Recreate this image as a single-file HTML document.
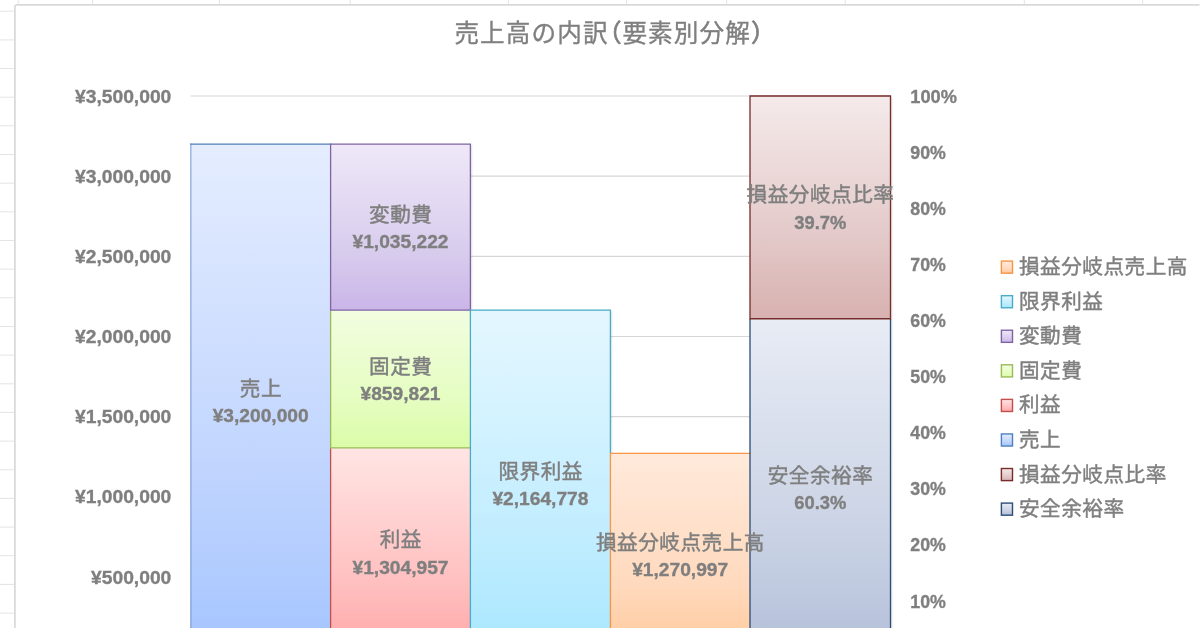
<!DOCTYPE html>
<html lang="ja">
<head>
<meta charset="utf-8">
<title>売上高の内訳(要素別分解)</title>
<style>
html,body{margin:0;padding:0;background:#fff;}
body{width:1200px;height:628px;overflow:hidden;font-family:"Liberation Sans","Noto Sans CJK JP",sans-serif;}
svg{display:block;font-family:"Liberation Sans","Noto Sans CJK JP",sans-serif;will-change:transform;}
</style>
</head>
<body>
<svg width="1200" height="628" viewBox="0 0 1200 628">
<defs>
<linearGradient id="g_blue" x1="0" y1="0" x2="0" y2="1"><stop offset="0" stop-color="#e5edff"/><stop offset="0.65" stop-color="#bfd4fe"/><stop offset="1" stop-color="#a4c4ff"/></linearGradient>
<linearGradient id="g_red" x1="0" y1="0" x2="0" y2="1"><stop offset="0" stop-color="#ffe5e4"/><stop offset="0.65" stop-color="#ffbfbf"/><stop offset="1" stop-color="#ffa5a5"/></linearGradient>
<linearGradient id="g_green" x1="0" y1="0" x2="0" y2="1"><stop offset="0" stop-color="#f2fde0"/><stop offset="0.65" stop-color="#e5fdc1"/><stop offset="1" stop-color="#dbfca8"/></linearGradient>
<linearGradient id="g_purple" x1="0" y1="0" x2="0" y2="1"><stop offset="0" stop-color="#efe8f8"/><stop offset="0.65" stop-color="#d8cced"/><stop offset="1" stop-color="#cab5e8"/></linearGradient>
<linearGradient id="g_aqua" x1="0" y1="0" x2="0" y2="1"><stop offset="0" stop-color="#e4f7ff"/><stop offset="0.65" stop-color="#c1edff"/><stop offset="1" stop-color="#a7e7ff"/></linearGradient>
<linearGradient id="g_orange" x1="0" y1="0" x2="0" y2="1"><stop offset="0" stop-color="#ffeadb"/><stop offset="0.65" stop-color="#ffd9bd"/><stop offset="1" stop-color="#ffc898"/></linearGradient>
<linearGradient id="g_dkblue" x1="0" y1="0" x2="0" y2="1"><stop offset="0" stop-color="#e8ecf5"/><stop offset="0.65" stop-color="#c9d2e4"/><stop offset="1" stop-color="#b2bed9"/></linearGradient>
<linearGradient id="g_dkred" x1="0" y1="0" x2="0" y2="1"><stop offset="0" stop-color="#f5eaea"/><stop offset="0.65" stop-color="#e3c8c8"/><stop offset="1" stop-color="#d7b1af"/></linearGradient>
<filter id="sh" x="-5%" y="-5%" width="110%" height="110%"><feDropShadow dx="1" dy="1" stdDeviation="1.2" flood-color="#000" flood-opacity="0.18"/></filter>
</defs>
<rect width="1200" height="628" fill="#fff"/>
<path d="M0 11.2H14.5M0 39.9H14.5M0 68.5H14.5M0 97.2H14.5M0 125.8H14.5M0 154.5H14.5M0 183.2H14.5M0 211.8H14.5M0 240.5H14.5M0 269.1H14.5M0 297.8H14.5M0 326.5H14.5M0 355.1H14.5M0 383.8H14.5M0 412.4H14.5M0 441.1H14.5M0 469.8H14.5M0 498.4H14.5M0 527.1H14.5M0 555.7H14.5M0 584.4H14.5M0 613.1H14.5M18.2 0V4.5M92.7 0V4.5M219.4 0V4.5M350.2 0V4.5M508.3 0V4.5M626.6 0V4.5M726.7 0V4.5M845.2 0V4.5M1024.3 0V4.5M1142.7 0V4.5" stroke="#e4e4e4" stroke-width="1" fill="none"/>
<path d="M14.9 628V6.85Q14.9 4.85 16.9 4.85H1199.5" stroke="#d9d9d9" stroke-width="1.7" fill="none"/>
<path d="M190.5 96.00H890.5M190.5 176.15H890.5M190.5 256.30H890.5M190.5 336.45H890.5M190.5 416.60H890.5M190.5 496.75H890.5M190.5 576.90H890.5" stroke="#d6d6d6" stroke-width="1.15" fill="none"/>
<g filter="url(#sh)"><rect x="190.80" y="144.09" width="139.80" height="512.96" fill="url(#g_blue)"/><rect x="330.60" y="447.87" width="139.80" height="209.18" fill="url(#g_red)"/><rect x="330.60" y="310.04" width="139.80" height="137.83" fill="url(#g_green)"/><rect x="330.60" y="144.09" width="139.80" height="165.95" fill="url(#g_purple)"/><rect x="470.40" y="310.04" width="140.00" height="347.01" fill="url(#g_aqua)"/><rect x="610.40" y="453.31" width="139.60" height="203.74" fill="url(#g_orange)"/><rect x="750.00" y="318.74" width="140.50" height="338.31" fill="url(#g_dkblue)"/><rect x="750.00" y="96.00" width="140.50" height="222.74" fill="url(#g_dkred)"/></g>
<path d="M190.80 657.05V143.44" stroke="#4f81bd" stroke-opacity="0.60" stroke-width="1.3" fill="none"/><path d="M190.15 144.09H331.25" stroke="#4f81bd" stroke-width="1.3" fill="none"/><path d="M330.60 657.05V447.87" stroke="#c0504d" stroke-width="1.3" fill="none"/><path d="M330.60 447.87V310.04M329.95 447.87H471.05" stroke="#9bbb59" stroke-width="1.3" fill="none"/><path d="M330.60 310.04V143.44M329.95 144.09H471.05M470.40 143.44V310.04M329.95 310.04H471.05" stroke="#8064a2" stroke-width="1.3" fill="none"/><path d="M470.40 657.05V309.39M469.75 310.04H611.05M610.40 309.39V453.31" stroke="#4bacc6" stroke-width="1.3" fill="none"/><path d="M610.40 657.05V452.66M609.75 453.31H750.65" stroke="#f79646" stroke-width="1.3" fill="none"/><path d="M750.00 657.05V318.74M890.50 318.74V657.05" stroke="#2c4d75" stroke-width="1.3" fill="none"/><path d="M750.00 318.74V95.35M749.35 96.00H891.15M890.50 95.35V318.74M749.35 318.74H891.15" stroke="#772c2a" stroke-width="1.3" fill="none"/>
<text x="171.30" y="102.60" font-size="19.20" font-weight="bold" text-anchor="end" fill="#7f7f7f" stroke="#7f7f7f" stroke-width="0.35" textLength="96.3" lengthAdjust="spacingAndGlyphs">¥3,500,000</text>
<text x="171.30" y="182.75" font-size="19.20" font-weight="bold" text-anchor="end" fill="#7f7f7f" stroke="#7f7f7f" stroke-width="0.35" textLength="96.3" lengthAdjust="spacingAndGlyphs">¥3,000,000</text>
<text x="171.30" y="262.90" font-size="19.20" font-weight="bold" text-anchor="end" fill="#7f7f7f" stroke="#7f7f7f" stroke-width="0.35" textLength="96.3" lengthAdjust="spacingAndGlyphs">¥2,500,000</text>
<text x="171.30" y="343.05" font-size="19.20" font-weight="bold" text-anchor="end" fill="#7f7f7f" stroke="#7f7f7f" stroke-width="0.35" textLength="96.3" lengthAdjust="spacingAndGlyphs">¥2,000,000</text>
<text x="171.30" y="423.20" font-size="19.20" font-weight="bold" text-anchor="end" fill="#7f7f7f" stroke="#7f7f7f" stroke-width="0.35" textLength="96.3" lengthAdjust="spacingAndGlyphs">¥1,500,000</text>
<text x="171.30" y="503.35" font-size="19.20" font-weight="bold" text-anchor="end" fill="#7f7f7f" stroke="#7f7f7f" stroke-width="0.35" textLength="96.3" lengthAdjust="spacingAndGlyphs">¥1,000,000</text>
<text x="171.30" y="583.50" font-size="19.20" font-weight="bold" text-anchor="end" fill="#7f7f7f" stroke="#7f7f7f" stroke-width="0.35" textLength="80.2" lengthAdjust="spacingAndGlyphs">¥500,000</text>
<text x="910.30" y="102.60" font-size="19.20" font-weight="bold" text-anchor="start" fill="#7f7f7f" stroke="#7f7f7f" stroke-width="0.35" textLength="46.6" lengthAdjust="spacingAndGlyphs">100%</text>
<text x="910.30" y="158.71" font-size="19.20" font-weight="bold" text-anchor="start" fill="#7f7f7f" stroke="#7f7f7f" stroke-width="0.35" textLength="35.6" lengthAdjust="spacingAndGlyphs">90%</text>
<text x="910.30" y="214.81" font-size="19.20" font-weight="bold" text-anchor="start" fill="#7f7f7f" stroke="#7f7f7f" stroke-width="0.35" textLength="35.6" lengthAdjust="spacingAndGlyphs">80%</text>
<text x="910.30" y="270.92" font-size="19.20" font-weight="bold" text-anchor="start" fill="#7f7f7f" stroke="#7f7f7f" stroke-width="0.35" textLength="35.6" lengthAdjust="spacingAndGlyphs">70%</text>
<text x="910.30" y="327.02" font-size="19.20" font-weight="bold" text-anchor="start" fill="#7f7f7f" stroke="#7f7f7f" stroke-width="0.35" textLength="35.6" lengthAdjust="spacingAndGlyphs">60%</text>
<text x="910.30" y="383.13" font-size="19.20" font-weight="bold" text-anchor="start" fill="#7f7f7f" stroke="#7f7f7f" stroke-width="0.35" textLength="35.6" lengthAdjust="spacingAndGlyphs">50%</text>
<text x="910.30" y="439.23" font-size="19.20" font-weight="bold" text-anchor="start" fill="#7f7f7f" stroke="#7f7f7f" stroke-width="0.35" textLength="35.6" lengthAdjust="spacingAndGlyphs">40%</text>
<text x="910.30" y="495.34" font-size="19.20" font-weight="bold" text-anchor="start" fill="#7f7f7f" stroke="#7f7f7f" stroke-width="0.35" textLength="35.6" lengthAdjust="spacingAndGlyphs">30%</text>
<text x="910.30" y="551.44" font-size="19.20" font-weight="bold" text-anchor="start" fill="#7f7f7f" stroke="#7f7f7f" stroke-width="0.35" textLength="35.6" lengthAdjust="spacingAndGlyphs">20%</text>
<text x="910.30" y="607.55" font-size="19.20" font-weight="bold" text-anchor="start" fill="#7f7f7f" stroke="#7f7f7f" stroke-width="0.35" textLength="35.6" lengthAdjust="spacingAndGlyphs">10%</text>
<text x="454.40" y="41.60" font-size="24.6" fill="#7f7f7f" stroke="#7f7f7f" stroke-width="0.35" text-anchor="start" textLength="153.1" lengthAdjust="spacing">売上高の内訳</text>
<text x="622.40" y="41.60" font-size="24.6" fill="#7f7f7f" stroke="#7f7f7f" stroke-width="0.35" text-anchor="start" textLength="127.4" lengthAdjust="spacing">要素別分解</text>
<text x="596.90" y="41.60" font-size="24.6" fill="#7f7f7f" stroke="#7f7f7f" stroke-width="0.7" text-anchor="start">（</text>
<text x="750.95" y="41.60" font-size="24.6" fill="#7f7f7f" stroke="#7f7f7f" stroke-width="0.7" text-anchor="start">）</text>
<text x="239.84" y="395.57" font-size="20.6" fill="#7f7f7f" stroke="#7f7f7f" stroke-width="0.45" text-anchor="start" textLength="41.73" lengthAdjust="spacing">売上</text>
<text x="260.70" y="421.87" font-size="19.20" font-weight="bold" text-anchor="middle" fill="#7f7f7f" stroke="#7f7f7f" stroke-width="0.35" textLength="96.0" lengthAdjust="spacingAndGlyphs">¥3,200,000</text>
<text x="369.07" y="222.06" font-size="20.6" fill="#7f7f7f" stroke="#7f7f7f" stroke-width="0.45" text-anchor="start" textLength="62.86" lengthAdjust="spacing">変動費</text>
<text x="400.50" y="248.36" font-size="19.20" font-weight="bold" text-anchor="middle" fill="#7f7f7f" stroke="#7f7f7f" stroke-width="0.35" textLength="96.0" lengthAdjust="spacingAndGlyphs">¥1,035,222</text>
<text x="369.07" y="373.95" font-size="20.6" fill="#7f7f7f" stroke="#7f7f7f" stroke-width="0.45" text-anchor="start" textLength="62.86" lengthAdjust="spacing">固定費</text>
<text x="400.50" y="400.25" font-size="19.20" font-weight="bold" text-anchor="middle" fill="#7f7f7f" stroke="#7f7f7f" stroke-width="0.35" textLength="80.0" lengthAdjust="spacingAndGlyphs">¥859,821</text>
<text x="379.63" y="547.46" font-size="20.6" fill="#7f7f7f" stroke="#7f7f7f" stroke-width="0.45" text-anchor="start" textLength="41.73" lengthAdjust="spacing">利益</text>
<text x="400.50" y="573.76" font-size="19.20" font-weight="bold" text-anchor="middle" fill="#7f7f7f" stroke="#7f7f7f" stroke-width="0.35" textLength="96.0" lengthAdjust="spacingAndGlyphs">¥1,304,957</text>
<text x="498.40" y="478.54" font-size="20.6" fill="#7f7f7f" stroke="#7f7f7f" stroke-width="0.45" text-anchor="start" textLength="83.99" lengthAdjust="spacing">限界利益</text>
<text x="540.40" y="504.84" font-size="19.20" font-weight="bold" text-anchor="middle" fill="#7f7f7f" stroke="#7f7f7f" stroke-width="0.35" textLength="96.0" lengthAdjust="spacingAndGlyphs">¥2,164,778</text>
<text x="595.95" y="550.18" font-size="20.6" fill="#7f7f7f" stroke="#7f7f7f" stroke-width="0.45" text-anchor="start" textLength="168.51" lengthAdjust="spacing">損益分岐点売上高</text>
<text x="680.20" y="576.48" font-size="19.20" font-weight="bold" text-anchor="middle" fill="#7f7f7f" stroke="#7f7f7f" stroke-width="0.35" textLength="96.0" lengthAdjust="spacingAndGlyphs">¥1,270,997</text>
<text x="746.56" y="202.37" font-size="20.6" fill="#7f7f7f" stroke="#7f7f7f" stroke-width="0.45" text-anchor="start" textLength="147.38" lengthAdjust="spacing">損益分岐点比率</text>
<text x="820.25" y="228.67" font-size="19.20" font-weight="bold" text-anchor="middle" fill="#7f7f7f" stroke="#7f7f7f" stroke-width="0.35" textLength="52.0" lengthAdjust="spacingAndGlyphs">39.7%</text>
<text x="767.69" y="482.89" font-size="20.6" fill="#7f7f7f" stroke="#7f7f7f" stroke-width="0.45" text-anchor="start" textLength="105.12" lengthAdjust="spacing">安全余裕率</text>
<text x="820.25" y="509.19" font-size="19.20" font-weight="bold" text-anchor="middle" fill="#7f7f7f" stroke="#7f7f7f" stroke-width="0.35" textLength="52.0" lengthAdjust="spacingAndGlyphs">60.3%</text>
<rect x="1001.4" y="261.10" width="11.1" height="12.1" fill="url(#g_orange)" stroke="#f79646" stroke-width="1.4"/>
<text x="1018.90" y="274.20" font-size="20.6" fill="#7f7f7f" stroke="#7f7f7f" stroke-width="0.45" text-anchor="start" textLength="168.51" lengthAdjust="spacing">損益分岐点売上高</text>
<rect x="1001.4" y="295.67" width="11.1" height="12.1" fill="url(#g_aqua)" stroke="#4bacc6" stroke-width="1.4"/>
<text x="1018.90" y="308.77" font-size="20.6" fill="#7f7f7f" stroke="#7f7f7f" stroke-width="0.45" text-anchor="start" textLength="83.99" lengthAdjust="spacing">限界利益</text>
<rect x="1001.4" y="330.24" width="11.1" height="12.1" fill="url(#g_purple)" stroke="#8064a2" stroke-width="1.4"/>
<text x="1018.90" y="343.34" font-size="20.6" fill="#7f7f7f" stroke="#7f7f7f" stroke-width="0.45" text-anchor="start" textLength="62.86" lengthAdjust="spacing">変動費</text>
<rect x="1001.4" y="364.81" width="11.1" height="12.1" fill="url(#g_green)" stroke="#9bbb59" stroke-width="1.4"/>
<text x="1018.90" y="377.91" font-size="20.6" fill="#7f7f7f" stroke="#7f7f7f" stroke-width="0.45" text-anchor="start" textLength="62.86" lengthAdjust="spacing">固定費</text>
<rect x="1001.4" y="399.38" width="11.1" height="12.1" fill="url(#g_red)" stroke="#c0504d" stroke-width="1.4"/>
<text x="1018.90" y="412.48" font-size="20.6" fill="#7f7f7f" stroke="#7f7f7f" stroke-width="0.45" text-anchor="start" textLength="41.73" lengthAdjust="spacing">利益</text>
<rect x="1001.4" y="433.95" width="11.1" height="12.1" fill="url(#g_blue)" stroke="#4f81bd" stroke-width="1.4"/>
<text x="1018.90" y="447.05" font-size="20.6" fill="#7f7f7f" stroke="#7f7f7f" stroke-width="0.45" text-anchor="start" textLength="41.73" lengthAdjust="spacing">売上</text>
<rect x="1001.4" y="468.52" width="11.1" height="12.1" fill="url(#g_dkred)" stroke="#772c2a" stroke-width="1.4"/>
<text x="1018.90" y="481.62" font-size="20.6" fill="#7f7f7f" stroke="#7f7f7f" stroke-width="0.45" text-anchor="start" textLength="147.38" lengthAdjust="spacing">損益分岐点比率</text>
<rect x="1001.4" y="503.09" width="11.1" height="12.1" fill="url(#g_dkblue)" stroke="#2c4d75" stroke-width="1.4"/>
<text x="1018.90" y="516.19" font-size="20.6" fill="#7f7f7f" stroke="#7f7f7f" stroke-width="0.45" text-anchor="start" textLength="105.12" lengthAdjust="spacing">安全余裕率</text>
</svg>
</body>
</html>
